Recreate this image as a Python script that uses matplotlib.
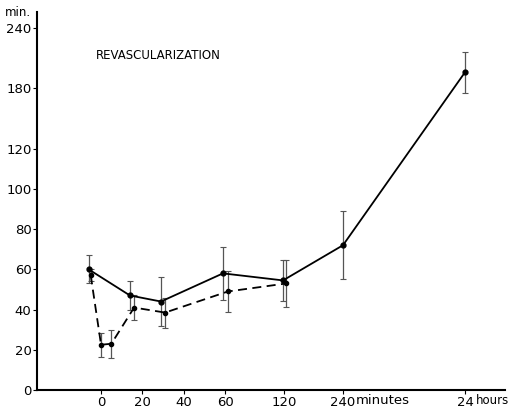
import numpy as np
import matplotlib
matplotlib.use("Agg")
import matplotlib.pyplot as plt

# time after revascularization (minutes); 1440 = 24 hours
solid_t = [-6, 14, 29, 59, 119, 240, 1440]
solid_v = [60, 47, 44, 58, 54.5, 72, 196]
solid_lo = [7, 7, 12, 13, 10, 17, 21]
solid_hi = [7, 7, 12, 13, 10, 17, 20]

dash_t = [-5, 0, 5, 16, 31, 63, 125]
dash_v = [57, 22.5, 23, 41, 38.5, 49, 53]
dash_err = [3, 6, 7, 6, 7.5, 10, 11.5]

x_ticks = [0, 20, 40, 60, 120, 240, 1440]
x_labels = ["0", "20", "40", "60", "120", "240", "24"]
y_ticks = [0, 20, 40, 60, 80, 100, 120, 180, 240]

# broken axes of the original figure
x_knots = [-60, 0, 60, 120, 240, 1440, 2880]
x_pos = [-124, 0, 124, 183, 242, 364, 486]
y_knots = [0, 120, 240, 400]
y_pos = [0, 120, 180, 260]


def fx(v):
    return np.interp(v, x_knots, x_pos)


def ix(p):
    return np.interp(p, x_pos, x_knots)


def fy(v):
    return np.interp(v, y_knots, y_pos)


def iy(p):
    return np.interp(p, y_pos, y_knots)


fig = plt.figure(figsize=(5.09, 4.07), dpi=100)
ax = fig.add_axes([0.0727, 0.0418, 0.9193, 0.9287])
ax.set_xscale("function", functions=(fx, ix))
ax.set_yscale("function", functions=(fy, iy))

ax.errorbar(solid_t, solid_v, yerr=[solid_lo, solid_hi], fmt="o-",
            color="black", lw=1.3, ms=3.5, ecolor="#555555",
            elinewidth=0.9, capsize=2.5, capthick=0.8)
ax.errorbar(dash_t, dash_v, yerr=dash_err, fmt="o--",
            color="black", lw=1.3, ms=3, dashes=(5, 3),
            ecolor="#555555", elinewidth=0.9, capsize=2.5, capthick=0.8)

ax.set_xlim(-31, 1912)
ax.set_ylim(0, 256)

ax.set_xticks(x_ticks)
ax.set_xticklabels(x_labels)
ax.set_yticks(y_ticks)
ax.minorticks_off()
ax.tick_params(axis="both", length=3, width=0.8, labelsize=9.5, pad=1)

for s in ["top", "right"]:
    ax.spines[s].set_visible(False)
ax.spines["left"].set_linewidth(1.5)
ax.spines["bottom"].set_linewidth(1.5)

for t, word, dx, fs in [(240, "minutes", 13, 9.5), (1440, "hours", 11, 8.5)]:
    ax.annotate(word, xy=(t, 0), xycoords=("data", "axes fraction"),
                xytext=(dx, -4), textcoords="offset pixels",
                fontsize=fs, ha="left", va="top")

fig.text(0.01, 0.985, "min.", fontsize=8.5, va="top")
fig.text(0.188, 0.855, "REVASCULARIZATION", fontsize=8.5)

fig.savefig("out.png", dpi=100)
